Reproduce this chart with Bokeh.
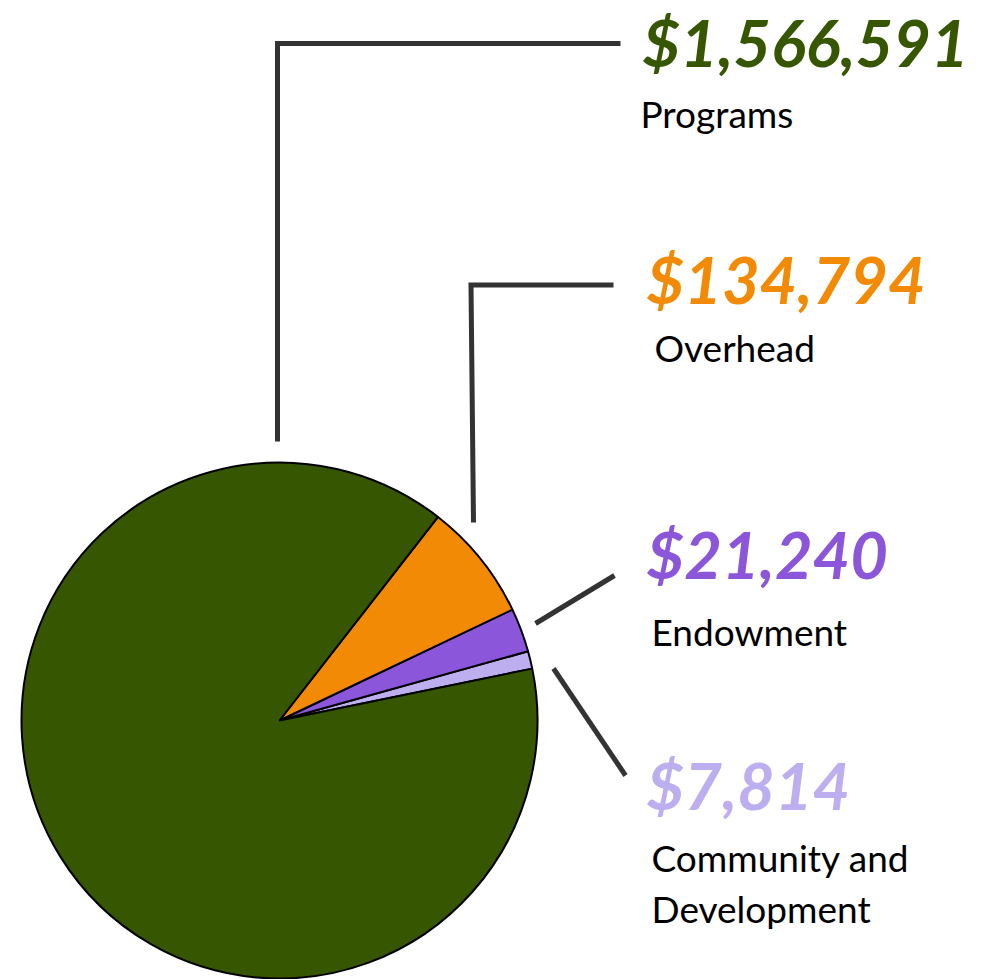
import math
from bokeh.plotting import figure
from bokeh.models import Range1d, ColumnDataSource
from bokeh.core.properties import value
from bokeh.embed import file_html
from bokeh.resources import INLINE

# ---- data ----
categories = ["Community and Development", "Endowment", "Overhead", "Programs"]
amounts = [7814, 21240, 134794, 1566591]
amount_labels = ["$7,814", "$21,240", "$134,794", "$1,566,591"]
# slice shares (percent) as drawn in the picture
slice_share = [1.1, 2.75, 7.4, 88.75]
label_lines = [["Community and", "Development"], ["Endowment"], ["Overhead"], ["Programs"]]
colors = ["#bdaef0", "#8b56da", "#f28a05", "#365602"]

W, H = 988, 979


def sy(y):  # screen y -> data y
    return H - y


p = figure(width=W, height=H, output_backend="svg", toolbar_location=None,
           x_range=Range1d(0, W), y_range=Range1d(0, H),
           min_border=0, outline_line_color=None)
p.axis.visible = False
p.grid.visible = False
p.background_fill_color = "white"

# ---- pie ----
cx, cy, r = 279, sy(720), 258
start0 = math.radians(11.6)
total = sum(slice_share)
starts, ends = [], []
acc = start0
for s in slice_share:
    starts.append(acc)
    acc += s / total * 2 * math.pi
    ends.append(acc)

src = ColumnDataSource(dict(cat=categories, amt=amounts, start=starts, end=ends, color=colors))
p.wedge(x=cx, y=cy, radius=r, start_angle="start", end_angle="end", fill_color="color",
        line_color="black", line_width=2, source=src)

# ---- leader lines (screen coords) ----
lines_x = [[553, 625], [535, 614], [473, 470.5, 613], [277, 277, 620]]
lines_y = [[668, 775], [623, 575], [522, 284.5, 284.5], [441, 43, 43]]
p.multi_line(xs=lines_x, ys=[[sy(v) for v in ys] for ys in lines_y],
             line_color="#333333", line_width=5, line_join="miter")

# ---- amounts ----
amt_x = [646, 646, 646, 642]
amt_y = [784, 553, 278, 41]
p.text(x=amt_x, y=[sy(v) for v in amt_y], text=amount_labels, text_color=colors,
       text_font=value("Lato"), text_font_style="bold italic",
       text_font_size="65px", text_align="left", text_baseline="alphabetic")

# ---- category labels ----
lab_x0 = [651, 651, 654, 640]
lab_y0 = [857, 631, 347, 113]
lx, ly, lt = [], [], []
for i, lines in enumerate(label_lines):
    for j, t in enumerate(lines):
        lx.append(lab_x0[i])
        ly.append(sy(lab_y0[i] + j * 51))
        lt.append(t)
p.text(x=lx, y=ly, text=lt, text_color="black", text_font=value("Lato"),
       text_font_size="37px", text_align="left", text_baseline="alphabetic")

open("out.html", "w").write(file_html(p, INLINE))
